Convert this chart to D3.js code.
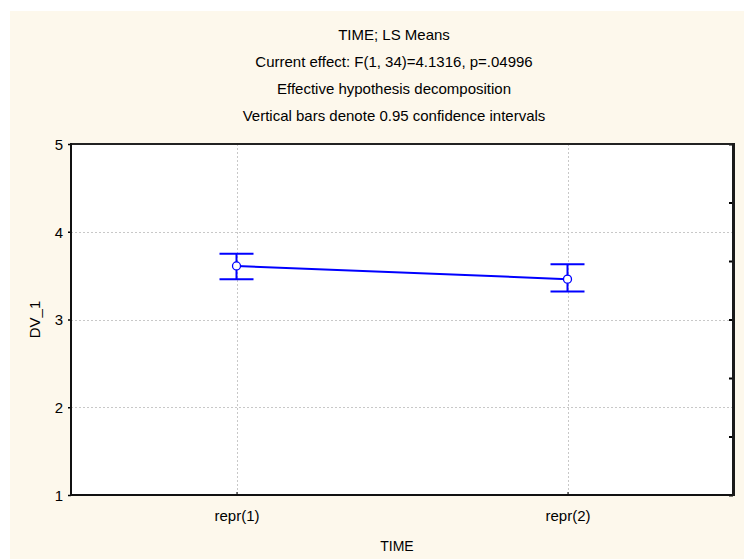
<!DOCTYPE html>
<html>
<head>
<meta charset="utf-8">
<script src="https://cdn.jsdelivr.net/npm/d3@7"></script>
<style>
  html, body { margin: 0; background: #fff; overflow: hidden; }
  svg { display: block; }
  svg text { font-family: "Liberation Sans", Arial, sans-serif; fill: #000; }
  .grid line { stroke: #c8c8c8; stroke-dasharray: 2,2; }
</style>
</head>
<body>
<div class="chart"></div>
<script>
// chart values
var categories = ['repr(1)', 'repr(2)'];
var means = [3.61, 3.46];
var lower = [3.46, 3.32];
var upper = [3.75, 3.63];
var yTicks = [1, 2, 3, 4, 5];
var titleLines = [
  'TIME; LS Means',
  'Current effect: F(1, 34)=4.1316, p=.04996',
  'Effective hypothesis decomposition',
  'Vertical bars denote 0.95 confidence intervals'
];

var W = 744, H = 559;
var margin = {top: 144, right: 11, bottom: 64, left: 71};
var pw = W - margin.left - margin.right;
var ph = H - margin.top - margin.bottom;

var svg = d3.select('.chart').append('svg')
  .attr('width', W)
  .attr('height', H);

// cream panel behind everything
svg.append('rect')
  .attr('x', 10).attr('y', 11)
  .attr('width', W - 10).attr('height', H - 11)
  .attr('fill', '#fdf8ec');

var g = svg.append('g').attr('transform', 'translate(' + margin.left + ',' + margin.top + ')');

var x = d3.scaleLinear().domain([0.5, categories.length + 0.5]).range([0, pw]);
var y = d3.scaleLinear().domain([1, 5]).range([ph, 0]);

g.append('rect').attr('width', pw).attr('height', ph).attr('fill', '#fff');

// grid
var grid = g.append('g').attr('class', 'grid');
grid.selectAll('.hg').data(yTicks.slice(1, -1)).enter().append('line')
  .attr('x1', 0).attr('x2', pw)
  .attr('y1', function (d) { return Math.round(y(d)) + 0.5; })
  .attr('y2', function (d) { return Math.round(y(d)) + 0.5; });
grid.selectAll('.vg').data(categories).enter().append('line')
  .attr('y1', 0).attr('y2', ph)
  .attr('x1', function (d, i) { return Math.round(x(i + 1)) + 0.5; })
  .attr('x2', function (d, i) { return Math.round(x(i + 1)) + 0.5; });

// left axis
var yAxis = g.append('g')
  .call(d3.axisLeft(y).tickValues(yTicks).tickFormat(d3.format('d')).tickSize(3).tickPadding(5));
yAxis.select('.domain').remove();
yAxis.selectAll('line').attr('stroke-width', 1.5);
yAxis.selectAll('text').attr('font-size', 15).attr('dy', '0.36em');

// right axis: unlabelled ticks pointing in, with its own domain line as the frame edge
var rAxis = g.append('g').attr('transform', 'translate(' + pw + ',0)')
  .call(d3.axisLeft(y).tickValues(d3.range(0, 7).map(function (i) { return 1 + i * 4 / 6; }))
    .tickSize(4).tickSizeOuter(0).tickFormat(''));
rAxis.select('.domain').attr('stroke', '#1a1a1a').attr('stroke-width', 3);
rAxis.selectAll('line').attr('stroke-width', 2);

// bottom axis
var xAxis = g.append('g').attr('transform', 'translate(0,' + ph + ')')
  .call(d3.axisTop(x).tickValues(d3.range(1, categories.length + 1)).tickSize(3)
    .tickFormat(function (d) { return categories[d - 1]; }));
xAxis.select('.domain').remove();
xAxis.selectAll('text').attr('font-size', 15).attr('y', 26).attr('dy', 0);

// frame
g.append('rect').attr('x', -1).attr('y', -1).attr('width', pw + 2).attr('height', 2).attr('fill', '#222');
g.append('rect').attr('x', -1).attr('y', ph - 1).attr('width', pw + 3).attr('height', 2).attr('fill', '#111');
g.append('rect').attr('x', -1).attr('y', -1).attr('width', 2).attr('height', ph + 1).attr('fill', '#111');
svg.append('line')
  .attr('x1', margin.left + pw + 0.5).attr('x2', margin.left + pw + 0.5)
  .attr('y1', margin.top - 1).attr('y2', margin.top + ph + 1)
  .attr('stroke', '#1a1a1a').attr('stroke-width', 3);

// means line
var line = d3.line()
  .x(function (d, i) { return x(i + 1); })
  .y(function (d) { return y(d); });
g.append('path').datum(means)
  .attr('d', line)
  .attr('fill', 'none')
  .attr('stroke', '#0000ff')
  .attr('stroke-width', 2);

// error bars
var bars = g.selectAll('.bar').data(means).enter().append('g');
bars.append('line')
  .attr('x1', function (d, i) { return x(i + 1); })
  .attr('x2', function (d, i) { return x(i + 1); })
  .attr('y1', function (d, i) { return y(upper[i]); })
  .attr('y2', function (d, i) { return y(lower[i]); })
  .attr('stroke', '#0000ff').attr('stroke-width', 2);
[upper, lower].forEach(function (arr) {
  bars.append('line')
    .attr('x1', function (d, i) { return x(i + 1) - 17; })
    .attr('x2', function (d, i) { return x(i + 1) + 17; })
    .attr('y1', function (d, i) { return y(arr[i]); })
    .attr('y2', function (d, i) { return y(arr[i]); })
    .attr('stroke', '#0000ff').attr('stroke-width', 2);
});
bars.append('circle')
  .attr('cx', function (d, i) { return x(i + 1); })
  .attr('cy', function (d) { return y(d); })
  .attr('r', 4)
  .attr('fill', '#fff')
  .attr('stroke', '#0000ff')
  .attr('stroke-width', 1.3);

// titles
svg.selectAll('.title').data(titleLines).enter().append('text')
  .attr('x', margin.left + pw / 2 - 8)
  .attr('y', function (d, i) { return 40 + i * 27; })
  .attr('text-anchor', 'middle')
  .attr('font-size', 15)
  .text(function (d) { return d; });

svg.append('text')
  .attr('x', margin.left + pw / 2 - 5).attr('y', 551)
  .attr('text-anchor', 'middle').attr('font-size', 14)
  .text('TIME');

svg.append('text')
  .attr('transform', 'translate(40,' + (margin.top + ph / 2) + ') rotate(-90)')
  .attr('text-anchor', 'middle').attr('font-size', 15)
  .text('DV_1');
</script>
</body>
</html>
